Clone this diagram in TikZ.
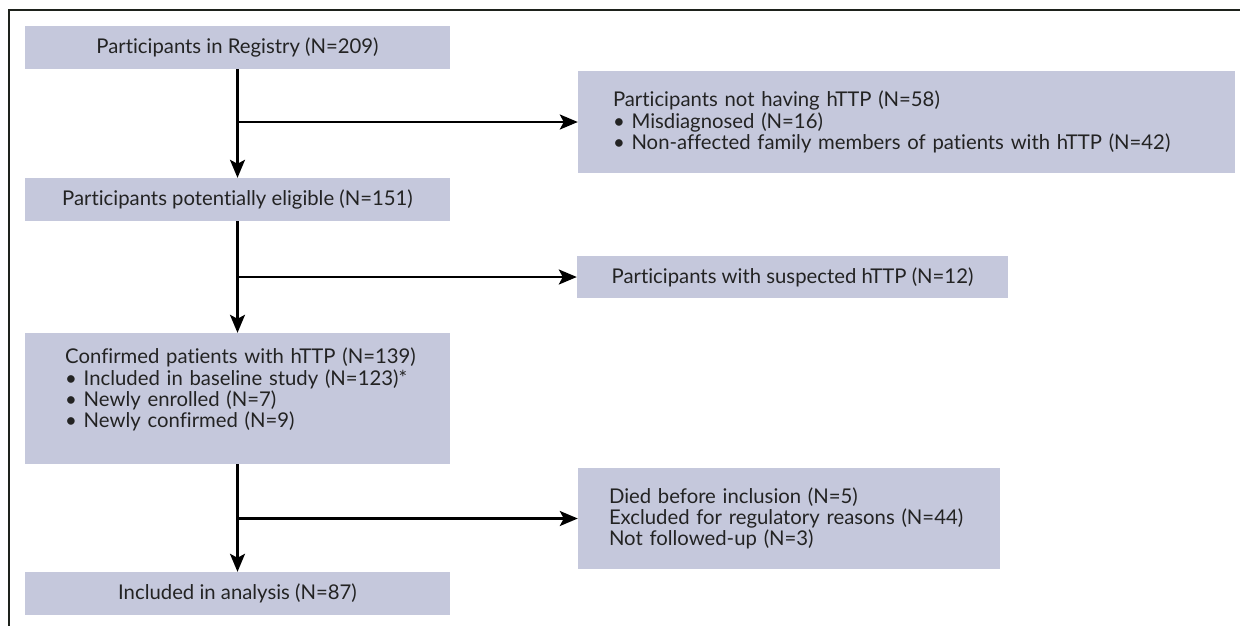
\documentclass[tikz,border=0pt]{standalone}
\usepackage{fontspec}
\setmainfont[Ligatures={NoCommon,NoRare}]{Lato}
\usetikzlibrary{arrows.meta}
\definecolor{boxfill}{RGB}{197,200,220}
\definecolor{txt}{RGB}{35,35,35}
\definecolor{framec}{RGB}{30,34,28}
\begin{document}
\begin{tikzpicture}[x=1pt,y=-1pt,
  box/.style={fill=boxfill, draw=none, inner sep=0pt, text=txt,
    font=\fontsize{20.3}{21.3}\selectfont},
  flow/.style={line width=2.4pt, -{Stealth[length=18pt,width=15pt,inset=4pt]}},
  link/.style={line width=2.4pt}]
\useasboundingbox (0,0) rectangle (1240,625);
\draw[framec, line width=2.8pt] (9,626) -- (9,10) -- (1241,10);

\node[box, minimum width=425pt, minimum height=43pt] (b1) at (237.5,47.5) {Participants in Registry (N=209)};
\node[box, minimum width=657pt, minimum height=102pt, text width=587pt, align=left] (r1) at (906.5,122)
  {Participants not having hTTP (N=58)\\
   \textbullet\ Misdiagnosed (N=16)\\
   \textbullet\ Non-affected family members of patients with hTTP (N=42)};
\node[box, minimum width=425pt, minimum height=43pt] (b2) at (237.5,199.5) {Participants potentially eligible (N=151)};
\node[box, minimum width=431pt, minimum height=42pt] (r2) at (792.5,277) {Participants with suspected hTTP (N=12)};
\node[box, minimum width=425pt, minimum height=131pt] (b3) at (237.5,398.5) {};
\node[box, fill=none, text width=380pt, align=left, anchor=north west] (b3t) at (65,348)
  {Confirmed patients with hTTP (N=139)\\
   \textbullet\ Included in baseline study (N=123)*\\
   \textbullet\ Newly enrolled (N=7)\\
   \textbullet\ Newly confirmed (N=9)};
\node[box, minimum width=422pt, minimum height=101pt, text width=360pt, align=left] (r3) at (789,518.5)
  {Died before inclusion (N=5)\\
   Excluded for regulatory reasons (N=44)\\
   Not followed-up (N=3)};
\node[box, minimum width=425pt, minimum height=43pt] (b4) at (237.5,593.5) {Included in analysis (N=87)};

\draw[flow] (b1.south) -- (b2.north);
\draw[flow] (b1.south |- r1.west) -- (r1.west);
\draw[flow] (b2.south) -- (b3.north);
\draw[flow] (b2.south |- r2.west) -- (r2.west);
\draw[flow] (b3.south) -- (b4.north);
\draw[flow] (b3.south |- r3.west) -- (r3.west);
\end{tikzpicture}
\end{document}
